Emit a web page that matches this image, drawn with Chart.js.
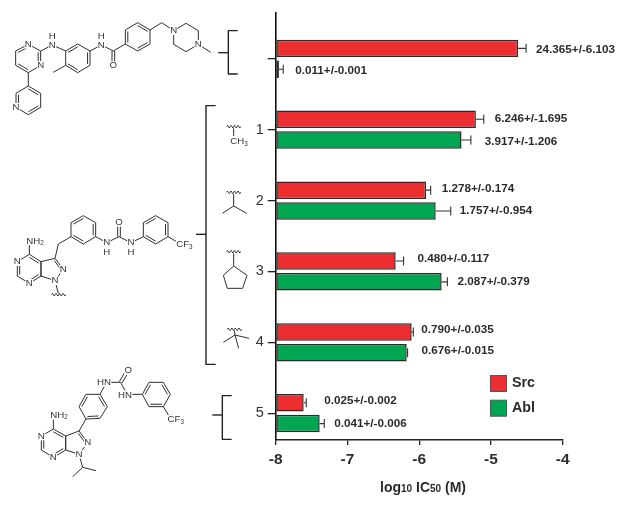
<!DOCTYPE html>
<html>
<head>
<meta charset="utf-8">
<style>
  html, body { margin: 0; padding: 0; background: #fff; }
  canvas { display: block; }
</style>
<script src="https://cdn.jsdelivr.net/npm/chart.js@4/dist/chart.umd.min.js"></script>
</head>
<body>
<canvas id="chart" width="624" height="505"></canvas>
<script>
// values (log10 IC50)
const groups = [0, 1, 2, 3, 4, 5];
const tickLabels = ['', '1', '2', '3', '4', '5'];
const srcValues = [-4.62, -5.21, -5.905, -6.328, -6.105, -7.61];
const ablValues = [-7.955, -5.41, -5.77, -5.687, -6.174, -7.387];
const srcErrors = [0.11, 0.11, 0.065, 0.11, 0.023, 0.036];
const ablErrors = [0.06, 0.13, 0.21, 0.08, 0.012, 0.064];
const srcLabels = ['24.365+/-6.103', '6.246+/-1.695', '1.278+/-0.174', '0.480+/-0.117', '0.790+/-0.035', '0.025+/-0.002'];
const ablLabels = ['0.011+/-0.001', '3.917+/-1.206', '1.757+/-0.954', '2.087+/-0.379', '0.676+/-0.015', '0.041+/-0.006'];

// label nudges in px, [gap after the error cap, vertical shift]
const srcNudge = [[10, 1], [11, 0], [11, -1.5], [14, -2], [8, -1.7], [18, -2]];
const ablNudge = [[12, 2], [14, 1.5], [9, 0], [10, 0], [14, -1.5], [10, 0.5]];

const RED = '#ed2e30', GREEN = '#00a651', DARK = '#2b2b2b';
const SANS = '"Liberation Sans", Arial, sans-serif';

// small drawing helpers for the chemical structures, coordinates are 3x px
function line(ctx, pts) {
  ctx.beginPath();
  pts.forEach((p, i) => i ? ctx.lineTo(p[0], p[1]) : ctx.moveTo(p[0], p[1]));
  ctx.stroke();
}
function ring(ctx, pts, doubles) {
  line(ctx, pts.concat([pts[0]]));
  const cx = pts.reduce((a, p) => a + p[0], 0) / pts.length;
  const cy = pts.reduce((a, p) => a + p[1], 0) / pts.length;
  (doubles || []).forEach(i => {
    const a = pts[i], b = pts[(i + 1) % pts.length];
    const inner = p => [p[0] + (cx - p[0]) * 0.2, p[1] + (cy - p[1]) * 0.2];
    line(ctx, [inner(a), inner(b)]);
  });
}
function atom(ctx, text, x, y, sub) {
  ctx.font = '29px ' + SANS;
  const w = ctx.measureText(text).width;
  let sw = 0;
  ctx.textAlign = 'left';
  ctx.textBaseline = 'middle';
  if (sub) {
    ctx.font = '19px ' + SANS;
    sw = ctx.measureText(sub).width;
  }
  ctx.fillStyle = '#fff';
  ctx.fillRect(x - w / 2 - 1, y - 13, w + sw + 2, 26);
  ctx.fillStyle = '#333';
  ctx.font = '29px ' + SANS;
  ctx.fillText(text, x - w / 2, y);
  if (sub) {
    ctx.font = '19px ' + SANS;
    ctx.fillText(sub, x + w / 2, y + 8);
  }
}
function squiggle(ctx, x0, x1, y) {
  ctx.beginPath();
  const n = 4, step = (x1 - x0) / (n * 2);
  ctx.moveTo(x0, y);
  for (let i = 0; i < n * 2; i++) {
    ctx.quadraticCurveTo(x0 + step * (i + 0.5), y + (i % 2 ? 8 : -8), x0 + step * (i + 1), y);
  }
  ctx.stroke();
}
function bracket(ctx, pts, stem) {
  ctx.save();
  ctx.lineWidth = 4.2;
  ctx.strokeStyle = '#222';
  line(ctx, pts);
  line(ctx, stem);
  ctx.restore();
}
function inZoom(ctx, ox, oy, fn) {
  ctx.save();
  ctx.translate(ox, oy);
  ctx.scale(1 / 3, 1 / 3);
  ctx.strokeStyle = '#2e2e2e';
  ctx.lineWidth = 3;
  ctx.lineJoin = 'round';
  fn(ctx);
  ctx.restore();
}

function drawImatinib(c) {
  ring(c, [[85,133],[122,153],[122,196],[85,218],[47,196],[47,153]], [1,3,5]);
  line(c, [[122,153],[157,135],[197,153]]);
  ring(c, [[197,153],[233,132],[270,153],[270,196],[233,218],[197,196]], [0,2,4]);
  line(c, [[197,196],[160,217]]);
  line(c, [[270,153],[304,135],[340,153],[376,132]]);
  line(c, [[336,153],[336,186]]);
  line(c, [[344,153],[344,186]]);
  ring(c, [[376,132],[376,90],[413,68],[450,90],[450,132],[413,153]], [0,2,4]);
  line(c, [[450,90],[485,68],[521,92]]);
  ring(c, [[521,92],[558,70],[595,92],[595,133],[558,155],[521,133]]);
  line(c, [[595,133],[632,157]]);
  line(c, [[85,218],[85,258]]);
  ring(c, [[85,258],[122,280],[122,322],[85,344],[48,322],[48,280]], [0,2,4]);
  atom(c, 'N', 85, 133);
  atom(c, 'N', 122, 196);
  atom(c, 'N', 157, 135);
  atom(c, 'H', 157, 108);
  atom(c, 'N', 304, 135);
  atom(c, 'H', 304, 108);
  atom(c, 'O', 340, 197);
  atom(c, 'N', 521, 92);
  atom(c, 'N', 595, 133);
  atom(c, 'N', 48, 322);
  bracket(c, [[713,92],[685,92],[685,222],[713,222]], [[655,158],[685,158]]);
}

function drawPyrazoloUrea(c) {
  ring(c, [[213,98],[250,77],[287,98],[287,140],[250,162],[213,140]], [0,2,4]);
  line(c, [[213,140],[175,162],[165,205]]);
  line(c, [[287,140],[320,158],[357,140],[393,158],[430,140]]);
  line(c, [[353,140],[353,108]]);
  line(c, [[361,140],[361,108]]);
  ring(c, [[430,98],[467,77],[504,98],[504,140],[467,162],[430,140]], [0,2,4]);
  line(c, [[504,140],[530,155]]);
  ring(c, [[165,205],[190,238],[165,272],[123,258],[123,215]], [0]);
  ring(c, [[88,193],[52,215],[52,258],[88,280],[123,258],[123,215]], [1,3,5]);
  line(c, [[88,193],[88,165]]);
  line(c, [[165,272],[175,310]]);
  squiggle(c, 155, 197, 314);
  atom(c, 'N', 320, 158);
  atom(c, 'H', 320, 186);
  atom(c, 'N', 393, 158);
  atom(c, 'H', 393, 186);
  atom(c, 'O', 357, 97);
  atom(c, 'CF', 548, 163, '3');
  atom(c, 'NH', 100, 153, '2');
  atom(c, 'N', 52, 215);
  atom(c, 'N', 88, 280);
  atom(c, 'N', 190, 238);
  atom(c, 'N', 165, 272);
}

function drawPP1Urea(c) {
  ring(c, [[160,237],[124,258],[124,300],[160,322],[197,300],[197,258]], [1,3,5]);
  ring(c, [[197,258],[237,243],[263,278],[237,313],[197,300]], [1]);
  line(c, [[160,237],[160,208]]);
  line(c, [[237,243],[258,207]]);
  ring(c, [[258,207],[300,205],[322,170],[300,133],[258,133],[237,170]], [0,2,4]);
  line(c, [[300,133],[315,105]]);
  line(c, [[332,97],[362,97],[375,122]]);
  line(c, [[358,95],[374,68]]);
  line(c, [[366,99],[382,72]]);
  line(c, [[395,133],[427,133]]);
  ring(c, [[427,133],[447,97],[490,97],[511,133],[490,170],[447,170]], [0,2,4]);
  line(c, [[490,170],[507,198]]);
  line(c, [[237,313],[248,352]]);
  line(c, [[218,380],[248,352],[288,362]]);
  atom(c, 'NH', 172, 195, '2');
  atom(c, 'N', 124, 258);
  atom(c, 'N', 160, 322);
  atom(c, 'N', 263, 278);
  atom(c, 'N', 237, 313);
  atom(c, 'HN', 312, 97);
  atom(c, 'HN', 375, 135);
  atom(c, 'O', 385, 62);
  atom(c, 'CF', 522, 208, '3');
  bracket(c, [[695,137],[667,137],[667,268],[695,268]], [[637,195],[667,195]]);
}

function drawSideChains(c) {
  bracket(c, [[77,17],[48,17],[48,793],[77,793]], [[18,403],[48,403]]);
  squiggle(c, 110, 152, 80);
  line(c, [[131,85],[131,108]]);
  atom(c, 'CH', 142, 125, '3');
  squiggle(c, 110, 152, 277);
  line(c, [[131,282],[131,318]]);
  line(c, [[97,340],[131,318],[170,340]]);
  squiggle(c, 110, 152, 455);
  line(c, [[131,460],[131,498]]);
  ring(c, [[131,498],[171,526],[158,565],[112,565],[100,526]]);
  squiggle(c, 112, 155, 688);
  line(c, [[133,692],[135,705],[146,745]]);
  line(c, [[100,727],[135,705],[177,715]]);
}

const annotations = {
  id: 'annotations',
  afterDatasetsDraw(chart) {
    const ctx = chart.ctx;
    const x = chart.scales.x;
    // error bars and value labels
    [[srcErrors, srcLabels, srcNudge], [ablErrors, ablLabels, ablNudge]].forEach((set, d) => {
      const meta = chart.getDatasetMeta(d);
      const vals = chart.data.datasets[d].data;
      meta.data.forEach((bar, i) => {
        const end = x.getPixelForValue(vals[i].x);
        const tip = x.getPixelForValue(vals[i].x + set[0][i]);
        ctx.strokeStyle = '#333';
        ctx.lineWidth = 1.1;
        ctx.beginPath();
        ctx.moveTo(end, bar.y);
        ctx.lineTo(tip, bar.y);
        ctx.moveTo(tip, bar.y - 4.5);
        ctx.lineTo(tip, bar.y + 4.5);
        ctx.stroke();
        ctx.fillStyle = DARK;
        ctx.font = 'bold 11.7px ' + SANS;
        ctx.textAlign = 'left';
        ctx.textBaseline = 'middle';
        ctx.fillText(set[1][i], tip + set[2][i][0], bar.y + set[2][i][1]);
      });
    });
    // legend, inside the plot
    chart.data.datasets.forEach((ds, i) => {
      const top = 375.5 + i * 24.7;
      ctx.fillStyle = ds.backgroundColor;
      ctx.strokeStyle = '#555';
      ctx.lineWidth = 1;
      ctx.fillRect(490.5, top, 16, 16);
      ctx.strokeRect(490.5, top, 16, 16);
      ctx.fillStyle = DARK;
      ctx.font = 'bold 14.3px ' + SANS;
      ctx.textAlign = 'left';
      ctx.textBaseline = 'middle';
      ctx.fillText(ds.label, 512, top + 8);
    });
    // axis title, digits are set smaller like the original
    let tx = 380;
    [['log', 14], ['10', 10], [' IC', 14], ['50', 10], [' (M)', 14]].forEach(part => {
      ctx.font = 'bold ' + part[1] + 'px ' + SANS;
      ctx.fillStyle = DARK;
      ctx.textAlign = 'left';
      ctx.textBaseline = 'alphabetic';
      ctx.fillText(part[0], tx, 491.5);
      tx += ctx.measureText(part[0]).width;
    });
    inZoom(ctx, 0, 0, drawImatinib);
    inZoom(ctx, 0, 190, drawPyrazoloUrea);
    inZoom(ctx, 0, 350, drawPP1Urea);
    inZoom(ctx, 190, 100, drawSideChains);
  }
};

new Chart(document.getElementById('chart').getContext('2d'), {
  type: 'bar',
  plugins: [annotations],
  data: {
    datasets: [
      { label: 'Src', data: groups.map(i => ({ x: srcValues[i], y: i })), base: -8, backgroundColor: RED },
      { label: 'Abl', data: groups.map(i => ({ x: ablValues[i], y: i })), base: -8, backgroundColor: GREEN }
    ]
  },
  options: {
    indexAxis: 'y',
    responsive: false,
    animation: false,
    layout: { padding: { top: 9, right: 61.3, left: 0, bottom: 0 } },
    datasets: {
      bar: {
        borderColor: '#2a2a2a',
        borderWidth: 1.5,
        borderSkipped: false,
        categoryPercentage: 0.587,
        barPercentage: 0.84
      }
    },
    plugins: { legend: { display: false }, tooltip: { enabled: false } },
    scales: {
      x: {
        type: 'linear',
        min: -8,
        max: -4,
        afterFit(s) { s.height = 65; },
        border: { color: '#222', width: 1.5 },
        grid: { drawOnChartArea: false, color: '#222', lineWidth: 1.3, tickLength: 5 },
        ticks: { stepSize: 1, padding: 5, maxRotation: 0, color: DARK, font: { family: SANS, size: 15.5, weight: 'bold' } }
      },
      y: {
        type: 'linear',
        reverse: true,
        offset: false,
        min: -0.65,
        max: 5.378,
        afterFit(s) { s.width = 275.7; },
        afterBuildTicks(s) { s.ticks = groups.map(v => ({ value: v })); },
        border: { color: '#111', width: 1.6 },
        grid: { offset: false, drawOnChartArea: false, color: '#222', lineWidth: 1.3, tickLength: 8 },
        ticks: {
          padding: 4,
          color: '#333',
          font: { family: SANS, size: 14.5 },
          callback: (v) => tickLabels[v]
        }
      }
    }
  }
});
</script>
</body>
</html>
